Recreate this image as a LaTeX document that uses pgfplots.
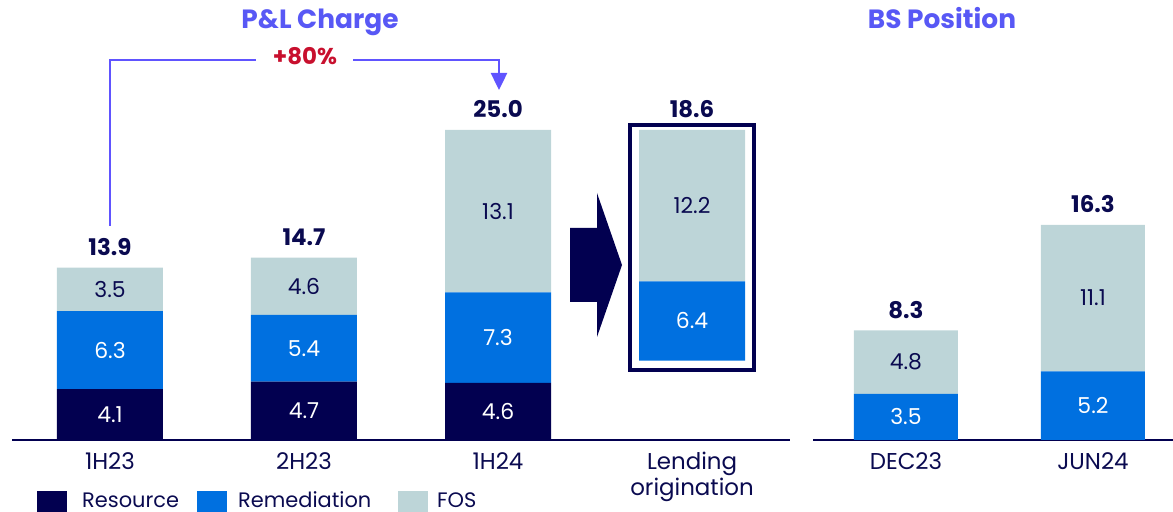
\documentclass[border=0pt]{standalone}
\usepackage{fontspec}
\setmainfont{Poppins}
\usepackage{pgfplots}
\pgfplotsset{compat=1.18}
\usetikzlibrary{arrows.meta}
\definecolor{cres}{RGB}{2,0,80}
\definecolor{crem}{RGB}{0,112,224}
\definecolor{cfos}{RGB}{189,213,216}
\definecolor{ctext}{RGB}{10,10,80}
\definecolor{ctitle}{RGB}{88,88,245}
\definecolor{cline}{RGB}{96,84,255}
\definecolor{cpct}{RGB}{200,16,46}
\newcommand\seg{\fontsize{22}{26}\selectfont}
\newcommand\tck{\fontsize{23}{26}\selectfont}
\newcommand\tot{\fontsize{23}{27}\selectfont\bfseries}
\newcommand\ttl{\fontsize{26.5}{30}\selectfont\bfseries}
\newcommand\pct{\fontsize{23}{27}\selectfont\bfseries}
\newcommand\leg{\fontsize{21}{25}\selectfont}
\pgfplotsset{
  leftgeom/.style={at={(12bp,72bp)}, anchor=south west, scale only axis,
    width=778bp, height=372bp, xmin=-0.505, xmax=3.505, ymin=0, ymax=30},
  rightgeom/.style={at={(813bp,72bp)}, anchor=south west, scale only axis,
    width=360bp, height=330bp, xmin=-0.497, xmax=1.428, ymin=0, ymax=25},
  barax/.style={ybar stacked, axis x line*=bottom, axis y line=none,
    axis line style={draw=cres, line width=2.5bp}, ytick=\empty,
    major tick length=0pt, clip=false,
    xticklabel style={align=center, font=\tck, text=ctext, yshift=-9bp}},
  labax/.style={hide axis, clip=false, point meta=explicit symbolic},
  seglab/.style={only marks, mark=none, nodes near coords,
    nodes near coords style={font=\seg, text=#1, anchor=center, inner sep=0pt}},
  totlab/.style={only marks, mark=none, nodes near coords,
    nodes near coords style={font=\tot, text=ctext, anchor=base, inner sep=0pt, yshift=12bp}},
}
\begin{document}
\begin{tikzpicture}[x=1bp,y=1bp]
% ---------- P&L Charge ----------
\begin{axis}[leftgeom, barax, bar width=106bp,
  xtick={0,1,2,3}, xticklabels={1H23,2H23,1H24,{Lending\\origination}}]
\addplot[draw=none, fill=none] coordinates {(0,0) (1,0) (2,0) (3,6.4)};
\addplot[draw=none, fill=cres] coordinates {(0,4.1) (1,4.7) (2,4.6) (3,0)};
\addplot[draw=none, fill=crem] coordinates {(0,6.3) (1,5.4) (2,7.3) (3,6.4)};
\addplot[draw=none, fill=cfos] coordinates {(0,3.5) (1,4.6) (2,13.1) (3,12.2)};
\draw[cres, line width=4bp] (axis cs:2.68,5.65) rectangle (axis cs:3.32,25.4);
\end{axis}
\begin{axis}[leftgeom, labax]
\addplot[seglab=white] coordinates {(0,2.05)[4.1] (1,2.35)[4.7] (2,2.3)[4.6]
  (0,7.25)[6.3] (1,7.4)[5.4] (2,8.25)[7.3] (3,9.6)[6.4]};
\addplot[seglab=ctext] coordinates {(0,12.15)[3.5] (1,12.4)[4.6] (2,18.45)[13.1] (3,18.9)[12.2]};
\addplot[totlab] coordinates {(0,13.9)[13.9] (1,14.7)[14.7] (2,25.0)[25.0] (3,25.0)[18.6]};
\end{axis}
% ---------- BS Position ----------
\begin{axis}[rightgeom, barax, bar width=104bp,
  xtick={0,1}, xticklabels={DEC23,JUN24}]
\addplot[draw=none, fill=crem] coordinates {(0,3.5) (1,5.2)};
\addplot[draw=none, fill=cfos] coordinates {(0,4.8) (1,11.1)};
\end{axis}
\begin{axis}[rightgeom, labax]
\addplot[seglab=white] coordinates {(0,1.75)[3.5] (1,2.6)[5.2]};
\addplot[seglab=ctext] coordinates {(0,5.9)[4.8] (1,10.75)[11.1]};
\addplot[totlab] coordinates {(0,8.3)[8.3] (1,16.3)[16.3]};
\end{axis}
% ---------- decorations ----------
\fill[cres] (570,284) -- (597,284) -- (597,319) -- (622,247) -- (597,175) -- (597,210) -- (570,210) -- cycle;
\node[font=\ttl, text=ctitle, anchor=base] at (320,483) {P\&L Charge};
\node[font=\ttl, text=ctitle, anchor=base] at (942,483) {BS Position};
\draw[cline, line width=2.5bp] (110,286) -- (110,452) -- (256,452);
\draw[cline, line width=2.5bp, -{Triangle[length=17bp,width=16bp]}] (353,452) -- (499,452) -- (499,422);
\node[font=\pct, text=cpct, anchor=base] at (305,447) {+80\%};
% legend
\fill[cres] (37,21) rectangle (67,-10);
\node[font=\leg, text=ctext, anchor=base west, inner sep=0pt] at (82,4) {Resource};
\fill[crem] (197,21) rectangle (227,-10);
\node[font=\leg, text=ctext, anchor=base west, inner sep=0pt] at (238,4) {Remediation};
\fill[cfos] (398,21) rectangle (428,-10);
\node[font=\leg, text=ctext, anchor=base west, inner sep=0pt] at (437,4) {FOS};
\pgfresetboundingbox
\useasboundingbox (0,0) rectangle (1173,512);
\end{tikzpicture}
\end{document}
